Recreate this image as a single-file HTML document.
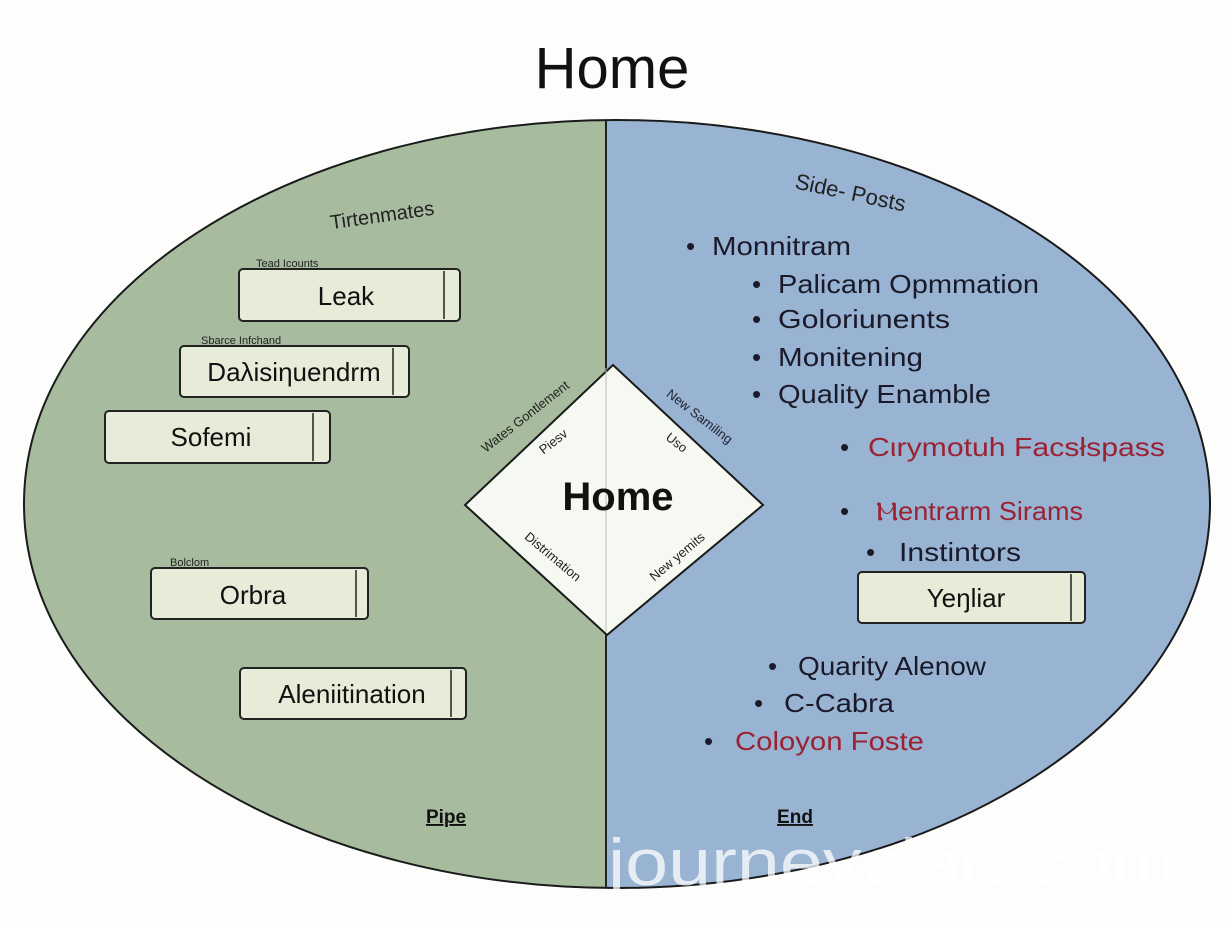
<!DOCTYPE html>
<html><head><meta charset="utf-8"><style>
html,body{margin:0;padding:0;background:#fdfdfc;}
svg{display:block;font-family:"Liberation Sans",sans-serif;}
</style></head><body>
<svg width="1232" height="928" viewBox="0 0 1232 928" xmlns="http://www.w3.org/2000/svg">
<defs>
<clipPath id="L"><rect x="0" y="0" width="606" height="928"/></clipPath>
<clipPath id="R"><rect x="606" y="0" width="700" height="928"/></clipPath>
</defs>
<text x="612" y="88" font-size="58" text-anchor="middle" fill="#111">Home</text>
<ellipse cx="617" cy="504" rx="593" ry="384" fill="#a7bc9f" clip-path="url(#L)"/>
<ellipse cx="617" cy="504" rx="593" ry="384" fill="#98b4d2" clip-path="url(#R)"/>
<ellipse cx="617" cy="504" rx="593" ry="384" fill="none" stroke="#1a1a1a" stroke-width="2"/>
<line x1="606" y1="120" x2="606" y2="888" stroke="#222" stroke-width="2"/>

<text x="382" y="222" font-size="20" text-anchor="middle" fill="#222" transform="rotate(-8 382 215)">Tirtenmates</text>
<text x="850" y="200" font-size="22" text-anchor="middle" fill="#222" transform="rotate(12 850 195)">Side- Posts</text>

<g stroke="#222" stroke-width="2" fill="#e6ecd8">
<rect x="239" y="269" width="221" height="52" rx="4"/>
<rect x="180" y="346" width="229" height="51" rx="4"/>
<rect x="105" y="411" width="225" height="52" rx="4"/>
<rect x="151" y="568" width="217" height="51" rx="4"/>
<rect x="240" y="668" width="226" height="51" rx="4"/>
<rect x="858" y="572" width="227" height="51" rx="4"/>
</g>
<g stroke="#222" stroke-width="1.5">
<line x1="444" y1="271" x2="444" y2="319"/>
<line x1="393" y1="348" x2="393" y2="395"/>
<line x1="313" y1="413" x2="313" y2="461"/>
<line x1="356" y1="570" x2="356" y2="617"/>
<line x1="451" y1="670" x2="451" y2="717"/>
<line x1="1071" y1="574" x2="1071" y2="621"/>
</g>
<g font-size="26" fill="#111" text-anchor="middle">
<text x="346" y="305">Leak</text>
<text x="294" y="381">Daλisiηuendrm</text>
<text x="211" y="446">Sofemi</text>
<text x="253" y="604">Orbra</text>
<text x="352" y="703">Aleniitination</text>
<text x="966" y="607">Yeŋliar</text>
</g>
<g font-size="11" fill="#222">
<text x="256" y="267">Tead Icounts</text>
<text x="201" y="344">Sbarce Infchand</text>
<text x="170" y="566">Bolclom</text>
</g>

<polygon points="613,365 763,505 607,635 465,505" fill="#f6f8f2" stroke="#1a1a1a" stroke-width="2"/>
<line x1="606" y1="368" x2="606" y2="632" stroke="#bbb" stroke-width="1"/>
<text x="618" y="510" font-size="40" font-weight="bold" text-anchor="middle" fill="#111">Home</text>
<g font-size="13" fill="#222">
<text x="528" y="420" text-anchor="middle" transform="rotate(-38 528 420)">Wates Gontlement</text>
<text x="556" y="445" text-anchor="middle" transform="rotate(-38 556 445)">Piesv</text>
<text x="697" y="420" text-anchor="middle" fill="#223" transform="rotate(38 697 420)">New Samiling</text>
<text x="674" y="446" text-anchor="middle" transform="rotate(38 674 446)">Uso</text>
<text x="550" y="560" text-anchor="middle" transform="rotate(40 550 560)">Distrimation</text>
<text x="680" y="560" text-anchor="middle" transform="rotate(-40 680 560)">New yemits</text>
</g>

<g font-size="26" fill="#1a1a2a">
<text x="686" y="255">•</text><text x="712" y="255" textLength="139" lengthAdjust="spacingAndGlyphs">Monnitram</text>
<text x="752" y="293">•</text><text x="778" y="293" textLength="261" lengthAdjust="spacingAndGlyphs">Palicam Opmmation</text>
<text x="752" y="328">•</text><text x="778" y="328" textLength="172" lengthAdjust="spacingAndGlyphs">Goloriunents</text>
<text x="752" y="366">•</text><text x="778" y="366" textLength="145" lengthAdjust="spacingAndGlyphs">Monitening</text>
<text x="752" y="403">•</text><text x="778" y="403" textLength="213" lengthAdjust="spacingAndGlyphs">Quality Enamble</text>
<text x="840" y="456">•</text><text x="868" y="456" fill="#9a2233" textLength="297" lengthAdjust="spacingAndGlyphs">Cιrymotuh Facsłspass</text>
<text x="840" y="520">•</text><text x="876" y="520" fill="#9a2233" textLength="207" lengthAdjust="spacingAndGlyphs">Ⲙentrarm Sirams</text>
<text x="866" y="561">•</text><text x="899" y="561" textLength="122" lengthAdjust="spacingAndGlyphs">Instintors</text>
<text x="768" y="675">•</text><text x="798" y="675" textLength="188" lengthAdjust="spacingAndGlyphs">Quarity Alenow</text>
<text x="754" y="712">•</text><text x="784" y="712" textLength="110" lengthAdjust="spacingAndGlyphs">C-Cabra</text>
<text x="704" y="750">•</text><text x="735" y="750" fill="#9a2233" textLength="189" lengthAdjust="spacingAndGlyphs">Coloyon Foste</text>
</g>

<text x="446" y="823" font-size="19" font-weight="bold" text-anchor="middle" fill="#111" text-decoration="underline">Pipe</text>
<text x="795" y="823" font-size="19" font-weight="bold" text-anchor="middle" fill="#111" text-decoration="underline">End</text>
<text x="608" y="885" font-size="66" fill="#ffffff" fill-opacity="0.75" textLength="567" lengthAdjust="spacingAndGlyphs">journeyclart.com</text>
</svg>
</body></html>
